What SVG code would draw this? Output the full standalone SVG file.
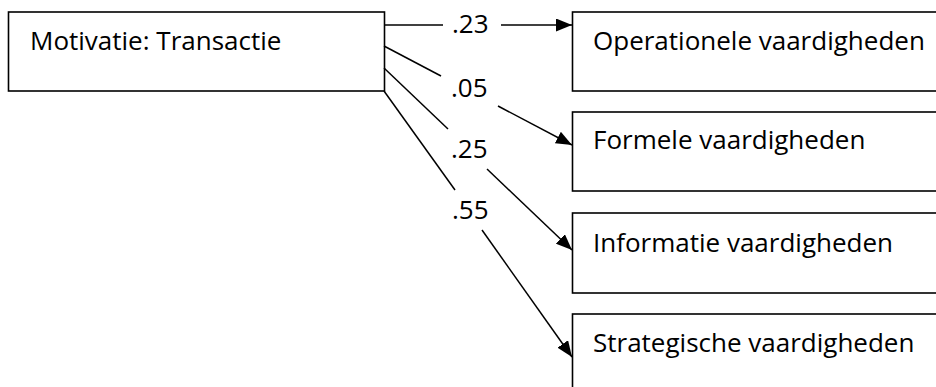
<svg xmlns="http://www.w3.org/2000/svg" width="936" height="387" viewBox="0 0 936 387">
<style>
.box{fill:#fff;stroke:#000;stroke-width:1.6}
.t{font-family:"Open Sans","Liberation Sans",sans-serif;font-size:26px;fill:#000}
.c{stroke:#000;stroke-width:1.5;fill:none}
</style>
<defs>
<marker id="ah" viewBox="0 0 16 13" refX="16" refY="6.5" markerWidth="16" markerHeight="13" markerUnits="userSpaceOnUse" orient="auto">
<path d="M0,0 L16,6.5 L0,13 Z" fill="#000"/>
</marker>
</defs>
<rect width="936" height="387" fill="#fff"/>
<g id="n-motivatie"><rect class="box" x="8.5" y="12" width="376" height="79"/><text class="t" x="30" y="50">Motivatie: Transactie</text></g>
<g id="n-operationele"><rect class="box" x="572.5" y="12" width="400" height="79"/><text class="t" x="593" y="50">Operationele vaardigheden</text></g>
<g id="n-formele"><rect class="box" x="572.5" y="112" width="400" height="79"/><text class="t" x="593" y="149">Formele vaardigheden</text></g>
<g id="n-informatie"><rect class="box" x="572.5" y="213" width="400" height="80"/><text class="t" x="593" y="252">Informatie vaardigheden</text></g>
<g id="n-strategische"><rect class="box" x="572.5" y="314" width="400" height="100"/><text class="t" x="593" y="352">Strategische vaardigheden</text></g>
<g id="connectors">
<line class="c" x1="384" y1="25" x2="443" y2="25"/>
<line class="c" x1="501" y1="25" x2="572" y2="25" marker-end="url(#ah)"/>
<text class="t" x="452" y="33">.23</text>
<line class="c" x1="384" y1="46" x2="441" y2="76"/>
<line class="c" x1="498" y1="106" x2="572" y2="145" marker-end="url(#ah)"/>
<text class="t" x="451" y="97">.05</text>
<line class="c" x1="384" y1="68" x2="448" y2="129"/>
<line class="c" x1="487" y1="169" x2="572" y2="250" marker-end="url(#ah)"/>
<text class="t" x="451" y="158">.25</text>
<line class="c" x1="384" y1="91" x2="455" y2="190"/>
<line class="c" x1="482" y1="230" x2="572" y2="357" marker-end="url(#ah)"/>
<text class="t" x="452" y="219">.55</text>
</g>
</svg>
